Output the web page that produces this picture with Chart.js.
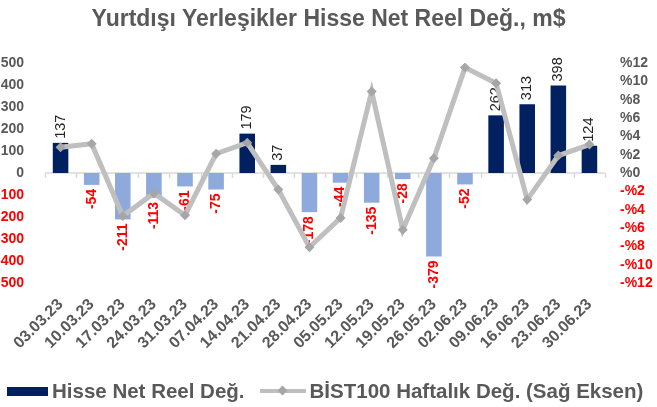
<!DOCTYPE html>
<html><head><meta charset="utf-8">
<script src="https://cdn.jsdelivr.net/npm/chart.js@4/dist/chart.umd.min.js"></script>
<style>
html,body{margin:0;padding:0;background:#fff;overflow:hidden;width:657px;height:407px;position:relative;}
#wrap{position:absolute;left:-8px;top:0;width:665px;height:407px;}
#title{position:absolute;left:0;top:5px;width:657px;text-align:center;font:bold 23px "Liberation Sans",Arial,sans-serif;color:#595959;white-space:nowrap;}
#legend{position:absolute;left:7px;top:379px;height:24px;display:flex;align-items:center;font:bold 20.5px "Liberation Sans",Arial,sans-serif;color:#595959;white-space:nowrap;}
.sw1{width:41px;height:9px;background:#002060;margin-right:4px;}
.sw2{position:relative;width:46px;height:4px;background:#BFBFBF;margin-left:15px;margin-right:4px;}
.sw2 i{position:absolute;left:19px;top:-2px;width:7px;height:7px;background:#A6A6A6;transform:rotate(45deg);}
</style></head>
<body>
<div id="wrap"><canvas id="c" width="665" height="407"></canvas></div>
<div id="title">Yurtdışı Yerleşikler Hisse Net Reel Değ., m$</div>
<div id="legend"><span class="sw1"></span><span>Hisse Net Reel Değ.</span><span class="sw2"><i></i></span><span>BİST100 Haftalık Değ. (Sağ Eksen)</span></div>
<script>
const labels = ['03.03.23','10.03.23','17.03.23','24.03.23','31.03.23','07.04.23','14.04.23','21.04.23','28.04.23','05.05.23','12.05.23','19.05.23','26.05.23','02.06.23','09.06.23','16.06.23','23.06.23','30.06.23'];
const netFlows = [137,-54,-211,-113,-61,-75,179,37,-178,-44,-135,-28,-379,-52,262,313,398,124];
const bist100Weekly = [2.8,3.2,-4.7,-2.2,-4.6,2.1,3.3,-1.8,-8.1,-4.9,8.9,-6.2,1.6,11.5,9.8,-2.9,1.9,3.1];
const leftRange = [-500, 500, 100];
const rightRange = [-12, 12, 2];

const GRAY = '#595959', RED = '#FF0000';
const FONT = '"Liberation Sans", Arial, sans-serif';

const decor = {
  id: 'decor',
  beforeDatasetsDraw(chart) {
    const x = chart.scales.x, y = chart.scales.y, ctx = chart.ctx;
    const y0 = y.getPixelForValue(0);
    const step = x.getPixelForValue(1) - x.getPixelForValue(0);
    ctx.save();
    ctx.strokeStyle = '#D9D9D9';
    ctx.lineWidth = 1.5;
    ctx.beginPath();
    ctx.moveTo(x.left, y0); ctx.lineTo(x.right, y0);
    for (let i = 0; i <= labels.length; i++) {
      const px = Math.round(x.getPixelForValue(0) - step / 2 + i * step) + 0.5;
      ctx.moveTo(px, y0); ctx.lineTo(px, y0 + 5);
    }
    ctx.stroke();
    ctx.restore();
  },
  afterDatasetDraw(chart, args) {
    if (args.index !== 0) return;
    const meta = chart.getDatasetMeta(0), ctx = chart.ctx;
    meta.data.forEach((bar, i) => {
      const v = netFlows[i];
      ctx.save();
      ctx.translate(bar.x, bar.y);
      ctx.rotate(-Math.PI / 2);
      ctx.textBaseline = 'middle';
      if (v >= 0) {
        ctx.font = '14.5px ' + FONT;
        ctx.fillStyle = '#262626';
        ctx.textAlign = 'left';
        ctx.fillText(String(v), 4, 0);
      } else {
        ctx.font = 'bold 14px ' + FONT;
        ctx.fillStyle = RED;
        ctx.textAlign = 'right';
        ctx.fillText(String(v), -4, 0);
      }
      ctx.restore();
    });
  }
};

new Chart(document.getElementById('c'), {
  data: {
    labels: labels,
    datasets: [
      {
        type: 'bar', label: 'Hisse Net Reel Değ.', data: netFlows, yAxisID: 'y', order: 1,
        backgroundColor: netFlows.map(v => v >= 0 ? '#002060' : '#8EA9DB'),
        categoryPercentage: 1, barPercentage: 0.5
      },
      {
        type: 'line', label: 'BİST100 Haftalık Değ. (Sağ Eksen)', data: bist100Weekly, yAxisID: 'y1', order: 0,
        borderColor: '#BFBFBF', borderWidth: 5, tension: 0,
        pointStyle: 'rectRot', pointRadius: 5, pointBackgroundColor: '#A6A6A6', pointBorderWidth: 0
      }
    ]
  },
  options: {
    responsive: false, animation: false, devicePixelRatio: 1,
    layout: { padding: { top: 63, bottom: 0, left: 0, right: 0 } },
    plugins: { legend: { display: false }, title: { display: false }, tooltip: { enabled: false } },
    scales: {
      x: {
        offset: true,
        grid: { display: false, drawTicks: false },
        border: { display: false },
        ticks: { color: GRAY, font: { family: FONT, size: 16, weight: 'bold' }, maxRotation: 45, minRotation: 45, autoSkip: false, padding: 12 },
        afterFit(s) { s.height = 124; }
      },
      y: {
        position: 'left', min: leftRange[0], max: leftRange[1],
        grid: { display: false, drawTicks: false }, border: { display: false },
        ticks: { stepSize: leftRange[2], autoSkip: false, padding: 21, color: c => c.tick.value < 0 ? RED : GRAY, font: { family: FONT, size: 14, weight: 'bold' } },
        afterFit(s) { s.width = 53; }
      },
      y1: {
        position: 'right', min: rightRange[0], max: rightRange[1],
        grid: { display: false, drawTicks: false }, border: { display: false },
        ticks: {
          stepSize: rightRange[2], autoSkip: false, padding: 15,
          color: c => c.tick.value < 0 ? RED : GRAY,
          font: { family: FONT, size: 14, weight: 'bold' },
          callback: v => v < 0 ? '-%' + Math.abs(v) : '%' + v
        },
        afterFit(s) { s.width = 52; }
      }
    }
  },
  plugins: [decor]
});
</script>
</body></html>
